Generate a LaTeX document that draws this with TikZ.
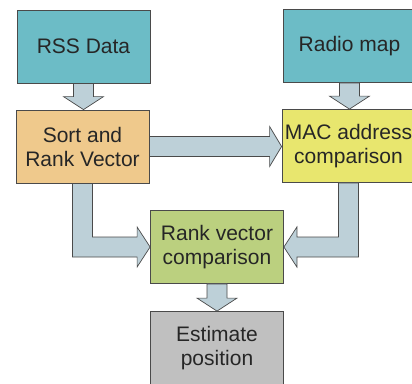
\documentclass[tikz,border=0pt]{standalone}
\usepackage{fontspec}
\setmainfont{Liberation Sans}
\usetikzlibrary{calc}

\definecolor{tealbox}{HTML}{6CBCC6}
\definecolor{orangebox}{HTML}{EFC98C}
\definecolor{yellowbox}{HTML}{E8E66E}
\definecolor{greenbox}{HTML}{BBD07F}
\definecolor{graybox}{HTML}{C0C0C0}
\definecolor{arrowfill}{HTML}{BDD0D8}
\definecolor{edgegray}{HTML}{4A4A4A}

\tikzset{
  stage/.style={draw=edgegray, line width=0.8pt, minimum width=133pt, minimum height=73pt,
    inner sep=0pt, align=center, text=black!85, font=\fontsize{21}{24}\selectfont},
  blockarrow/.style={draw=edgegray, line width=0.7pt, fill=arrowfill, line join=miter}
}

\begin{document}
\begin{tikzpicture}[x=1pt,y=1pt]
\useasboundingbox[fill=white] (0,0) rectangle (412,-383);

% boxes
\node[stage, fill=tealbox] (rss) at (83.5,-46.5) {RSS Data};
\node[stage, fill=tealbox] (radio) at (349.5,-46) {Radio map};
\node[stage, fill=orangebox] (sort) at (82.5,-146.5) {Sort and\\Rank Vector};
\node[stage, fill=yellowbox] (mac) at (348.5,-146) {MAC address\\comparison};
\node[stage, fill=greenbox] (rank) at (217,-247) {Rank vector\\comparison};
\node[stage, fill=graybox] (est) at (217,-348) {Estimate\\position};

% straight arrows
\draw[blockarrow] ($(rss.south)+(-10,0)$) -- ($(rss.south |- sort.north)+(-10,13)$) -- ++(-10,0)
  -- (rss.south |- sort.north) -- ++(20,13) -- ++(-10,0) -- ($(rss.south)+(10,0)$) -- cycle;
\draw[blockarrow] ($(radio.south)+(-10,0)$) -- ($(radio.south |- mac.north)+(-10,13)$) -- ++(-10,0)
  -- (radio.south |- mac.north) -- ++(20,13) -- ++(-10,0) -- ($(radio.south)+(10,0)$) -- cycle;
\draw[blockarrow] ($(rank.south)+(-10,0)$) -- ($(rank.south |- est.north)+(-10,13)$) -- ++(-10,0)
  -- (rank.south |- est.north) -- ++(20,13) -- ++(-10,0) -- ($(rank.south)+(10,0)$) -- cycle;
\draw[blockarrow] ($(sort.east)+(0,10)$) -- ($(sort.east -| mac.west)+(-12,10)$) -- ++(0,10)
  -- (sort.east -| mac.west) -- ++(-12,-20) -- ++(0,10) -- ($(sort.east)+(0,-10)$) -- cycle;

% bent arrows
\draw[blockarrow] ($(sort.south)+(-10,0)$) -- ($(sort.south |- rank.west)+(-10,-10)$)
  -- ($(rank.west)+(-13,-10)$) -- ++(0,-10) -- (rank.west) -- ++(-13,20) -- ++(0,-10)
  -- ($(sort.south |- rank.west)+(10,10)$) -- ($(sort.south)+(10,0)$) -- cycle;
\draw[blockarrow] ($(mac.south)+(10,0)$) -- ($(mac.south |- rank.east)+(10,-10)$)
  -- ($(rank.east)+(13,-10)$) -- ++(0,-10) -- (rank.east) -- ++(13,20) -- ++(0,-10)
  -- ($(mac.south |- rank.east)+(-10,10)$) -- ($(mac.south)+(-10,0)$) -- cycle;
\end{tikzpicture}
\end{document}
